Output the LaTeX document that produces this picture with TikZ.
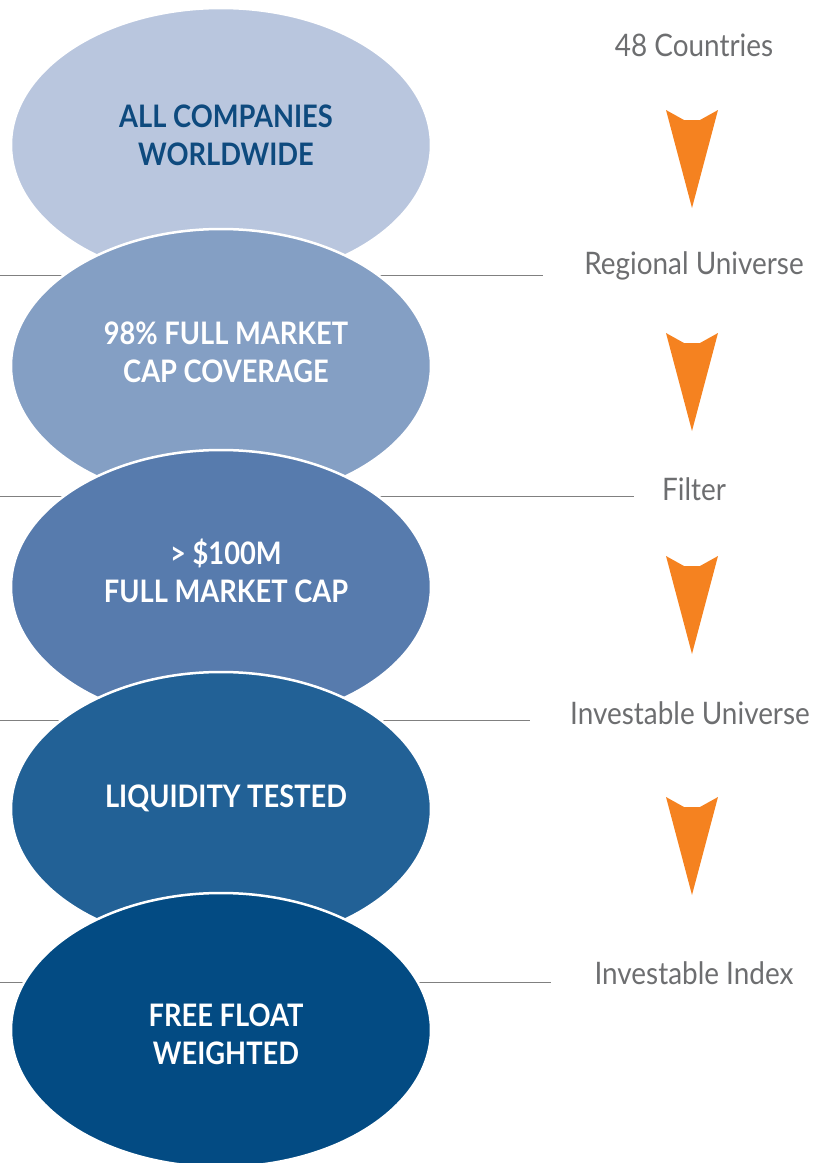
\documentclass[tikz,border=0pt]{standalone}
\usepackage{fontspec}
\setmainfont{Lato}[FakeStretch=0.88]
\newfontfamily\stagefont{Lato}[FakeStretch=0.9]
\usepackage{tikz}
\usetikzlibrary{shapes.geometric, positioning}

\definecolor{tierA}{HTML}{B9C6DE}
\definecolor{tierB}{HTML}{849FC4}
\definecolor{tierC}{HTML}{577BAD}
\definecolor{tierD}{HTML}{226196}
\definecolor{tierE}{HTML}{034B83}
\definecolor{navytext}{HTML}{0E4A7E}
\definecolor{labelgray}{HTML}{6D6E70}
\definecolor{rulegray}{HTML}{808080}
\definecolor{funnelorange}{HTML}{F58220}

\tikzset{
  tier/.style={ellipse, draw=white, line width=2.5pt, minimum width=420pt, minimum height=274pt, inner sep=0pt},
  tiertext/.style={align=center, text=white, font=\fontsize{31}{38}\selectfont\bfseries},
  stage/.style={text=labelgray, font=\stagefont\fontsize{31}{33}\selectfont},
  rule/.style={draw=rulegray, line width=1pt},
  funnel/.style={fill=funnelorange}
}

\begin{document}
\begin{tikzpicture}[x=1pt, y=-1pt]
\useasboundingbox (0,0) rectangle (816,1163);

% rules behind the ellipses
\foreach \y/\xe in {275/543, 496/634, 720/530, 982/551}
  \draw[rule] (0,\y) -- (\xe,\y);

\node[tier, fill=tierA] (all) at (221,145) {};
\node[tiertext, text=navytext] (allt) at ([xshift=5pt, yshift=10pt]all.center) {ALL COMPANIES\\WORLDWIDE};
\node[tier, fill=tierB] (cov) at (221,366) {};
\node[tiertext] (covt) at ([xshift=5pt, yshift=14pt]cov.center) {98\% FULL MARKET\\CAP COVERAGE};
\node[tier, fill=tierC] (cap) at (221,587) {};
\node[tiertext] (capt) at ([xshift=5pt, yshift=16pt]cap.center) {> \$100M\\FULL MARKET CAP};
\node[tier, fill=tierD] (liq) at (221,809) {};
\node[tiertext] (liqt) at ([xshift=5pt, yshift=11pt]liq.center) {LIQUIDITY TESTED};
\node[tier, fill=tierE] (ffw) at (221,1030) {};
\node[tiertext] (ffwt) at ([xshift=5pt, yshift=-4pt]ffw.center) {FREE FLOAT\\WEIGHTED};

\node[stage] (countries) at (694,45) {48 Countries};
\node[stage] (regional) at (694,266) {Regional Universe};
\node[stage] (filter) at (694,489) {Filter};
\node[stage] (invuni) at (690,713) {Investable Universe};
\node[stage] (invidx) at (694,973) {Investable Index};

% orange arrowheads
\foreach \yt in {110,333,556,797}
  \fill[funnel] (666,\yt) -- (684,\yt+10) -- (700,\yt+10) -- (718,\yt) -- (692,\yt+98) -- cycle;

\end{tikzpicture}
\end{document}
